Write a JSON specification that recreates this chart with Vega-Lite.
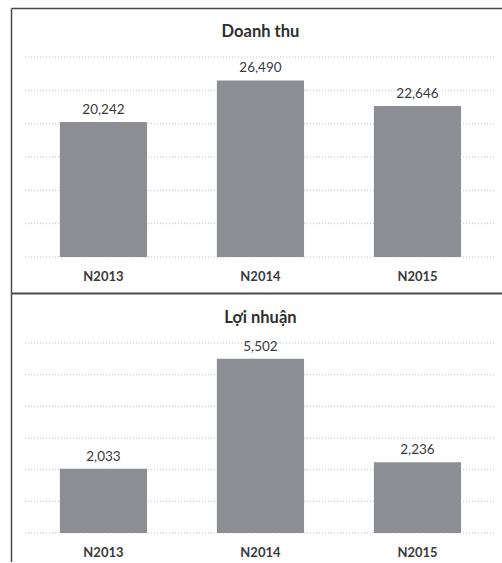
{
  "$schema": "https://vega.github.io/schema/vega-lite/v6.json",
  "padding": {"left": 11, "top": 8, "right": 0, "bottom": 0},
  "spacing": 0,
  "background": "white",
  "config": {
    "view": {"stroke": null},
    "text": {"font": "Lato"}
  },
  "vconcat": [
    {
      "width": 491,
      "height": 285,
      "data": {"values": [
        {"nam": "N2013", "v": 20242},
        {"nam": "N2014", "v": 26490},
        {"nam": "N2015", "v": 22646}
      ]},
      "encoding": {
        "x": {"field": "nam", "type": "nominal", "sort": null,
          "scale": {"domain": ["N2013", "N2014", "N2015"], "paddingInner": 0.445, "paddingOuter": 0.286, "align": 0.544},
          "axis": {"orient": "top", "labels": false, "ticks": false, "title": null, "domain": true, "domainColor": "#4a4a4a", "domainWidth": 1.5, "grid": false}}
      },
      "layer": [
        {
          "data": {"values": [{"g": 0}, {"g": 5000}, {"g": 10000}, {"g": 15000}, {"g": 20000}, {"g": 25000}, {"g": 30000}]},
          "mark": {"type": "rule", "color": "#c2c2c2", "strokeDash": [1, 2], "strokeWidth": 1},
          "encoding": {
            "y": {"field": "g", "type": "quantitative"},
            "x": {"datum": "N2013", "type": "nominal", "bandPosition": -0.4},
            "x2": {"datum": "N2015", "bandPosition": 1.4}
          }
        },
        {
          "mark": {"type": "bar", "color": "#8c8e94"},
          "encoding": {
            "y": {"field": "v", "type": "quantitative",
              "scale": {"domain": [-5400, 37350], "nice": false, "zero": false},
              "axis": {"labels": false, "ticks": false, "title": null, "domain": true, "domainColor": "#4a4a4a", "domainWidth": 1.5, "grid": false}},
            "y2": {"datum": 0}
          }
        },
        {
          "mark": {"type": "text", "baseline": "alphabetic", "dy": -8, "fontSize": 13.5, "color": "#3a3a3a"},
          "encoding": {
            "y": {"field": "v", "type": "quantitative"},
            "text": {"field": "v", "type": "quantitative", "format": ","}
          }
        },
        {
          "mark": {"type": "text", "baseline": "middle", "fontSize": 13, "fontWeight": "bold", "color": "#3a3a3a"},
          "encoding": {
            "y": {"datum": -3000, "type": "quantitative"},
            "text": {"field": "nam", "type": "nominal"}
          }
        },
        {
          "data": {"values": [{"nam": "N2014", "tieu_de": "Doanh thu"}]},
          "mark": {"type": "text", "baseline": "middle", "fontSize": 16.5, "fontWeight": "bold", "color": "#2e2e2e"},
          "encoding": {
            "y": {"datum": 33750, "type": "quantitative"},
            "text": {"field": "tieu_de", "type": "nominal"}
          }
        }
      ]
    },
    {
      "width": 491,
      "height": 269,
      "data": {"values": [
        {"nam": "N2013", "v": 2033},
        {"nam": "N2014", "v": 5502},
        {"nam": "N2015", "v": 2236}
      ]},
      "encoding": {
        "x": {"field": "nam", "type": "nominal", "sort": null,
          "scale": {"domain": ["N2013", "N2014", "N2015"], "paddingInner": 0.445, "paddingOuter": 0.286, "align": 0.544},
          "axis": {"orient": "top", "labels": false, "ticks": false, "title": null, "domain": true, "domainColor": "#4a4a4a", "domainWidth": 2, "grid": false}}
      },
      "layer": [
        {
          "data": {"values": [{"g": 0}, {"g": 1000}, {"g": 2000}, {"g": 3000}, {"g": 4000}, {"g": 5000}, {"g": 6000}]},
          "mark": {"type": "rule", "color": "#c2c2c2", "strokeDash": [1, 2], "strokeWidth": 1},
          "encoding": {
            "y": {"field": "g", "type": "quantitative"},
            "x": {"datum": "N2013", "type": "nominal", "bandPosition": -0.4},
            "x2": {"datum": "N2015", "bandPosition": 1.4}
          }
        },
        {
          "mark": {"type": "bar", "color": "#8c8e94"},
          "encoding": {
            "y": {"field": "v", "type": "quantitative",
              "scale": {"domain": [-915, 7579], "nice": false, "zero": false},
              "axis": {"labels": false, "ticks": false, "title": null, "domain": true, "domainColor": "#4a4a4a", "domainWidth": 1.5, "grid": false}},
            "y2": {"datum": 0}
          }
        },
        {
          "mark": {"type": "text", "baseline": "alphabetic", "dy": -8, "fontSize": 13.5, "color": "#3a3a3a"},
          "encoding": {
            "y": {"field": "v", "type": "quantitative"},
            "text": {"field": "v", "type": "quantitative", "format": ","}
          }
        },
        {
          "mark": {"type": "text", "baseline": "middle", "fontSize": 13, "fontWeight": "bold", "color": "#3a3a3a"},
          "encoding": {
            "y": {"datum": -616, "type": "quantitative"},
            "text": {"field": "nam", "type": "nominal"}
          }
        },
        {
          "data": {"values": [{"nam": "N2014", "tieu_de": "Lợi nhuận"}]},
          "mark": {"type": "text", "baseline": "middle", "fontSize": 16.5, "fontWeight": "bold", "color": "#2e2e2e"},
          "encoding": {
            "y": {"datum": 6789, "type": "quantitative"},
            "text": {"field": "tieu_de", "type": "nominal"}
          }
        }
      ]
    }
  ]
}
